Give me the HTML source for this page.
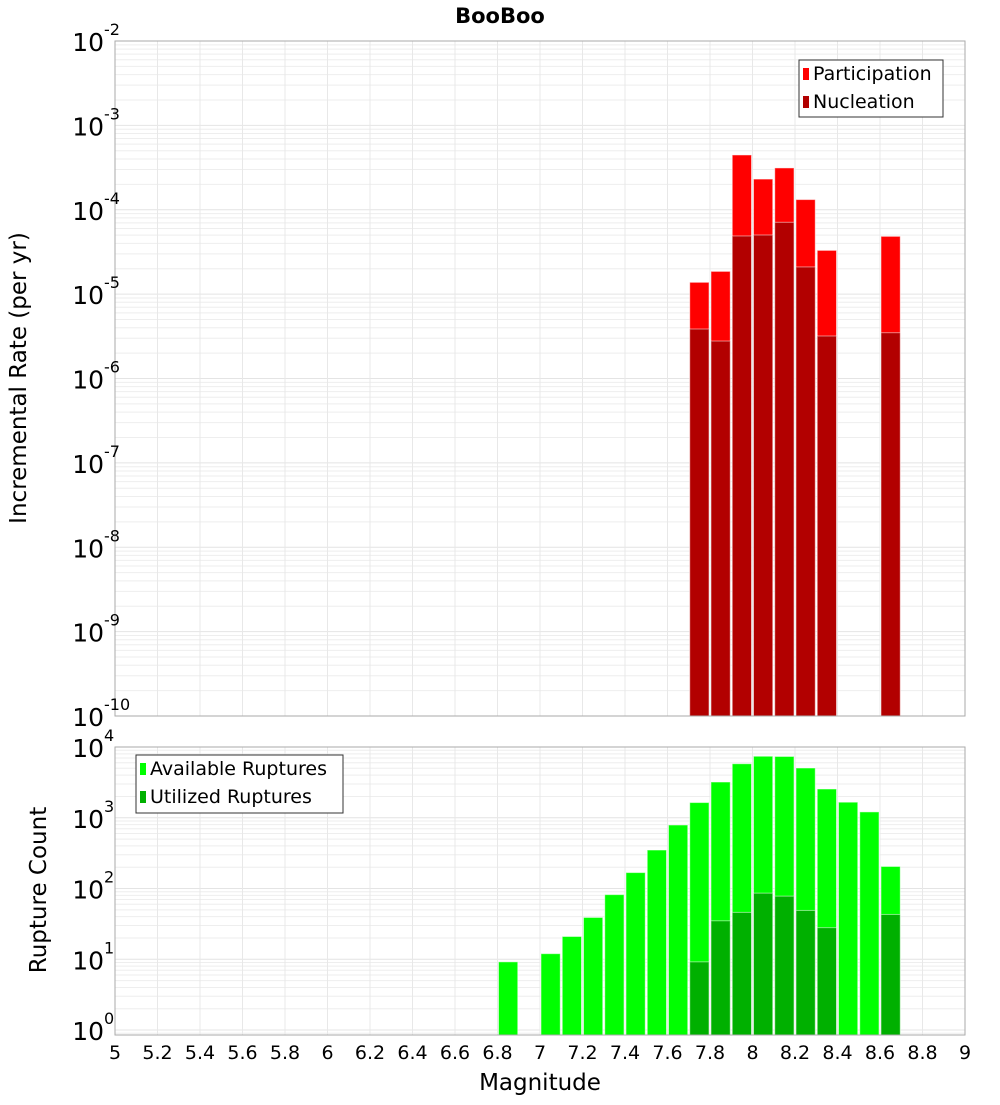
<!DOCTYPE html>
<html><head><meta charset="utf-8"><style>
body{margin:0;background:#fff;}
svg text{font-family:"DejaVu Sans","Liberation Sans",sans-serif;}
</style></head><body>
<svg id="chart" width="1000" height="1100" xmlns="http://www.w3.org/2000/svg">
<text x="500" y="23" text-anchor="middle" font-size="21" font-weight="bold">BooBoo</text>
<text transform="translate(26,378) rotate(-90)" text-anchor="middle" font-size="23">Incremental Rate (per yr)</text>
<text transform="translate(46,890) rotate(-90)" text-anchor="middle" font-size="23">Rupture Count</text>
<text x="540" y="1090" text-anchor="middle" font-size="23">Magnitude</text>
<g id="g"></g>
</svg>
<script>
const mags=[6.85,7.05,7.15,7.25,7.35,7.45,7.55,7.65,7.75,7.85,7.95,8.05,8.15,8.25,8.35,8.45,8.55,8.65];
const available=[9.2,12,21,39,82,168,350,790,1640,3200,5800,7400,7350,5050,2550,1660,1210,205];
const utilized=[0,0,0,0,0,0,0,0,9.2,35,46,86,78,49,28,0,0,43];
const rateMags=[7.75,7.85,7.95,8.05,8.15,8.25,8.35,8.65];
const participation=[1.38e-5,1.86e-5,4.46e-4,2.31e-4,3.13e-4,1.32e-4,3.3e-5,4.84e-5];
const nucleation=[3.86e-6,2.78e-6,4.89e-5,5.02e-5,7.1e-5,2.1e-5,3.19e-6,3.49e-6];
const xTicks=[5,5.2,5.4,5.6,5.8,6,6.2,6.4,6.6,6.8,7,7.2,7.4,7.6,7.8,8,8.2,8.4,8.6,8.8,9];
const topExps=[-2,-3,-4,-5,-6,-7,-8,-9,-10];
const botExps=[4,3,2,1,0];

const NS="http://www.w3.org/2000/svg";
const g=document.getElementById('g');
function el(t,a,p){const e=document.createElementNS(NS,t);for(const k in a)e.setAttribute(k,a[k]);(p||g).appendChild(e);return e;}
const L=115,R=965;
const x=m=>L+(m-5)/4*(R-L);
const T1=41,B1=716;
const yTop=v=>T1+(-2-Math.log10(v))*(B1-T1)/8;
const T2=747,B2=1035,bMin=-0.07;
const yBot=v=>B2-(Math.log10(v)-bMin)*(B2-T2)/(4-bMin);

function grid(T,B,lo,hi,yf,name){
  for(let e=Math.floor(lo);e<hi;e++){for(let k=1;k<10;k++){const v=k*Math.pow(10,e);const lv=Math.log10(v);if(lv<lo||lv>hi)continue;
    const l=el('line',{x1:L,x2:R,y1:yf(v),y2:yf(v),stroke:k==1?'#e4e4e4':'#eeeeee','stroke-width':1});
    
    }}
  xTicks.forEach(t=>{const l=el('line',{x1:x(t),x2:x(t),y1:T,y2:B,stroke:'#e8e8e8','stroke-width':1});
    
    });
}
grid(T1,B1,-10,-2,yTop,'top');
grid(T2,B2,bMin,4,yBot,'bottom');

function bar(m,v,yf,B,col,name){
  const y=yf(v);
  const r=el('rect',{x:x(m-0.05)+1,y:y,width:x(0.1+5)-L-2,height:B-y,fill:col,stroke:'#ffffff','stroke-opacity':0.5,'stroke-width':1});
  
  
}
rateMags.forEach((m,i)=>bar(m,participation[i],yTop,B1,'#ff0000','participation-bar'));
rateMags.forEach((m,i)=>bar(m,nucleation[i],yTop,B1,'#b20000','nucleation-bar'));
mags.forEach((m,i)=>{if(available[i]>0)bar(m,available[i],yBot,B2,'#00ff00','available-bar');});
mags.forEach((m,i)=>{if(utilized[i]>0)bar(m,utilized[i],yBot,B2,'#00b000','utilized-bar');});

[[T1,B1,'top-plot-frame'],[T2,B2,'bottom-plot-frame']].forEach(([T,B,n])=>{
  const r=el('rect',{x:L,y:T,width:R-L,height:B-T,fill:'none',stroke:'#aaaaaa','stroke-width':1});
  
  
});

function expLabel(yy,e,name){
  const t=el('text',{x:104,y:yy+10,'text-anchor':'end','font-size':25});
  
  
  t.textContent='10';
  const s=el('text',{x:104,y:yy-6,'text-anchor':'start','font-size':16});
  
  
  s.textContent=String(e);
}
topExps.forEach(e=>expLabel(yTop(Math.pow(10,e)),e,'top-y-tick-label'));
botExps.forEach(e=>expLabel(yBot(Math.pow(10,e)),e,'bottom-y-tick-label'));
xTicks.forEach(t=>{const tx=el('text',{x:x(t),y:1059,'text-anchor':'middle','font-size':19});
  
  
  tx.textContent=String(t);});

function legend(x0,y0,w,h,items,name){
  const r=el('rect',{x:x0,y:y0,width:w,height:h,fill:'#fff',stroke:'#333','stroke-width':1});
  
  
  items.forEach((it,i)=>{
    const sw=el('rect',{x:x0+4,y:y0+8+i*28,width:6,height:12,fill:it[1]});
    
    
    const t=el('text',{x:x0+14,y:y0+20+i*28,'font-size':19});
    
    
    t.textContent=it[0];
  });
}
legend(799,60,144,57,[['Participation','#ff0000'],['Nucleation','#b20000']],'top-legend');
legend(136,755,207,58,[['Available Ruptures','#00ff00'],['Utilized Ruptures','#00b000']],'bottom-legend');
</script>
</body></html>
